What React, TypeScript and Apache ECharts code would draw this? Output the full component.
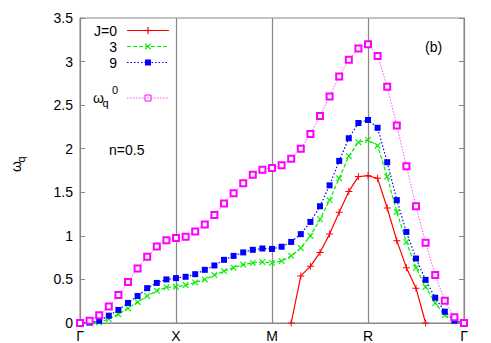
import React, { useEffect, useRef } from "react";
import * as echarts from "echarts";

const tickLabels = ["Γ", "X", "M", "R", "Γ"];
const legendNames = ["J=0", "3", "9"];

const redJ0: (number | null)[] = [
  null, null, null, null, null, null, null, null, null, null, null,
  null, null, null, null, null, null, null, null, null, null, null,
  0, 0.54, 0.65, 0.81, 1.02, 1.27, 1.51, 1.68, 1.69, 1.66, 1.32, 0.945, 0.635, 0.4, 0,
  null, null, null, null,
];
const greenJ3 = [
  0, 0, 0.005, 0.046, 0.1, 0.17, 0.24, 0.31, 0.37, 0.41, 0.415,
  0.435, 0.465, 0.5, 0.55, 0.595, 0.635, 0.67, 0.69, 0.7, 0.69,
  0.71, 0.77, 0.86, 1.0, 1.19, 1.41, 1.66, 1.915, 2.075, 2.1,
  2.035, 1.68, 1.275, 0.93, 0.635, 0.415, 0.23, 0.09, 0.02, 0,
];
const blueJ9 = [
  0, 0.005, 0.026, 0.084, 0.15, 0.23, 0.31, 0.4, 0.46, 0.5, 0.515,
  0.53, 0.56, 0.61, 0.66, 0.725, 0.77, 0.81, 0.84, 0.855, 0.85,
  0.875, 0.93, 1.02, 1.16, 1.34, 1.58, 1.86, 2.12, 2.295, 2.33,
  2.24, 1.845, 1.41, 1.045, 0.74, 0.495, 0.29, 0.13, 0.026, 0,
];
const magentaW0 = [
  0, 0.026, 0.09, 0.19, 0.32, 0.47, 0.625, 0.76, 0.877, 0.95, 0.976,
  0.99, 1.05, 1.13, 1.24, 1.37, 1.49, 1.605, 1.7, 1.76, 1.78,
  1.81, 1.885, 2.0, 2.17, 2.375, 2.6, 2.83, 3.02, 3.15, 3.2,
  3.065, 2.71, 2.265, 1.8, 1.34, 0.92, 0.55, 0.255, 0.065, 0,
];

const RED = "#ff0000";
const GREEN = "#00ee00";
const BLUE = "#0000ff";
const MAGENTA = "#ff00ff";
const FONT = "Liberation Sans";
const PLUS = "path://M4.3,0H5.7V4.3H10V5.7H5.7V10H4.3V5.7H0V4.3H4.3Z";

const toPts = (arr: (number | null)[]) => arr.map((v, i) => [i, v]);

export default function App() {
  const ref = useRef<HTMLDivElement>(null);
  useEffect(() => {
    if (!ref.current) return;
    const chart = echarts.init(ref.current, null, { renderer: "svg" });
    const lx1 = 127, lx2 = 169, lxm = 148;
    const legendMarker = (k: number, y: number) => {
      if (k === 0)
        return [
          { type: "line", shape: { x1: lxm - 3.5, y1: y, x2: lxm + 3.5, y2: y }, style: { stroke: RED, lineWidth: 1.2 } },
          { type: "line", shape: { x1: lxm, y1: y - 3.5, x2: lxm, y2: y + 3.5 }, style: { stroke: RED, lineWidth: 1.2 } },
        ];
      if (k === 1)
        return [
          { type: "line", shape: { x1: lxm - 2.8, y1: y - 2.8, x2: lxm + 2.8, y2: y + 2.8 }, style: { stroke: GREEN, lineWidth: 1.2 } },
          { type: "line", shape: { x1: lxm - 2.8, y1: y + 2.8, x2: lxm + 2.8, y2: y - 2.8 }, style: { stroke: GREEN, lineWidth: 1.2 } },
        ];
      return [{ type: "rect", shape: { x: lxm - 3, y: y - 3, width: 6, height: 6 }, style: { fill: BLUE } }];
    };
    const legendColors = [RED, GREEN, BLUE];
    const legendDash: any[] = ["solid", [4, 2], [1.5, 2]];
    const legendGraphics: any[] = [];
    legendNames.forEach((name, k) => {
      const y = 30.5 + k * 16;
      legendGraphics.push({
        type: "text", x: 117, y, style: { text: name, fill: "#000", font: `14px ${FONT}`, align: "right", verticalAlign: "middle" },
      });
      legendGraphics.push({
        type: "line", shape: { x1: lx1, y1: y, x2: lx2, y2: y },
        style: { stroke: legendColors[k], lineWidth: 1.2, lineDash: legendDash[k] === "solid" ? null : legendDash[k] },
      });
      legendGraphics.push(...legendMarker(k, y));
    });
    const wy = 98;
    legendGraphics.push(
      { type: "text", x: 93, y: wy, style: { text: "ω", fill: "#000", font: `14px ${FONT}`, verticalAlign: "middle" } },
      { type: "text", x: 102.5, y: wy + 5, style: { text: "q", fill: "#000", font: `11px ${FONT}`, verticalAlign: "middle" } },
      { type: "text", x: 112, y: wy - 8, style: { text: "0", fill: "#000", font: `11px ${FONT}`, verticalAlign: "middle" } },
      { type: "line", shape: { x1: lx1, y1: wy, x2: lx2, y2: wy }, style: { stroke: MAGENTA, lineWidth: 1, opacity: 0.7, lineDash: [1.5, 1.5] } },
      { type: "rect", shape: { x: lxm - 3, y: wy - 3, width: 6, height: 6 }, style: { fill: "#fff", stroke: MAGENTA, lineWidth: 1 } },
      { type: "rect", shape: { x: lxm - 0.5, y: wy - 0.5, width: 1, height: 1 }, style: { fill: MAGENTA } },
      { type: "text", x: 109, y: 150, style: { text: "n=0.5", fill: "#000", font: `14px ${FONT}`, verticalAlign: "middle" } },
      { type: "text", x: 425, y: 46.5, style: { text: "(b)", fill: "#000", font: `14px ${FONT}`, verticalAlign: "middle" } },
      {
        type: "group", x: 16, y: 168, rotation: Math.PI / 2,
        children: [
          { type: "text", x: -4, y: 0, style: { text: "ω", fill: "#000", font: `14px ${FONT}`, verticalAlign: "middle" } },
          { type: "text", x: 5.5, y: 5, style: { text: "q", fill: "#000", font: `11px ${FONT}`, verticalAlign: "middle" } },
        ],
      }
    );

    const axisGray = "#888888";
    chart.setOption({
      animation: false,
      backgroundColor: "#ffffff",
      grid: { left: 80, right: 27, top: 18, bottom: 20, show: true, borderColor: axisGray, borderWidth: 1 },
      xAxis: {
        type: "value", min: 0, max: 40, interval: 10,
        axisLine: { show: true, lineStyle: { color: axisGray } },
        axisTick: { show: false },
        splitLine: { show: true, lineStyle: { color: axisGray, width: 1.2 } },
        axisLabel: {
          color: "#000", fontFamily: FONT, fontSize: 14, margin: 6,
          formatter: (v: number) => tickLabels[Math.round(v / 10)] ?? "",
        },
      },
      yAxis: [
        {
          type: "value", min: 0, max: 3.5, interval: 0.5,
          axisLine: { show: true, lineStyle: { color: axisGray } },
          axisTick: { show: true, inside: true, length: 5, lineStyle: { color: axisGray } },
          splitLine: { show: false },
          axisLabel: { color: "#000", fontFamily: FONT, fontSize: 14, margin: 7, formatter: (v: number) => String(v) },
        },
        {
          type: "value", min: 0, max: 3.5, interval: 0.5, position: "right",
          axisLine: { show: true, lineStyle: { color: axisGray } },
          axisTick: { show: true, inside: true, length: 5, lineStyle: { color: axisGray } },
          splitLine: { show: false },
          axisLabel: { show: false },
        },
      ],
      series: [
        {
          name: "J=0", type: "line", data: toPts(redJ0), connectNulls: false,
          symbol: PLUS, symbolSize: 7,
          itemStyle: { color: RED },
          lineStyle: { color: RED, width: 1.2 },
        },
        {
          name: "3", type: "line", data: toPts(greenJ3),
          symbol: PLUS, symbolSize: 8, symbolRotate: 45,
          itemStyle: { color: GREEN },
          lineStyle: { color: GREEN, width: 1.2, type: [4, 2] },
        },
        {
          name: "9", type: "line", data: toPts(blueJ9),
          symbol: "rect", symbolSize: 6,
          itemStyle: { color: BLUE },
          lineStyle: { color: BLUE, width: 1.2, type: [1.5, 2] },
        },
        {
          name: "ωq0", type: "line", data: toPts(magentaW0),
          symbol: "emptyRect", symbolSize: 6,
          itemStyle: { color: MAGENTA, borderColor: MAGENTA, borderWidth: 1 },
          lineStyle: { color: MAGENTA, width: 1, type: [1.5, 1.5], opacity: 0.7 },
        },
      ],
      graphic: legendGraphics,
    });
    return () => chart.dispose();
  }, []);
  return <div ref={ref} style={{ position: "fixed", left: 0, top: 0, width: 491, height: 343 }} />;
}
